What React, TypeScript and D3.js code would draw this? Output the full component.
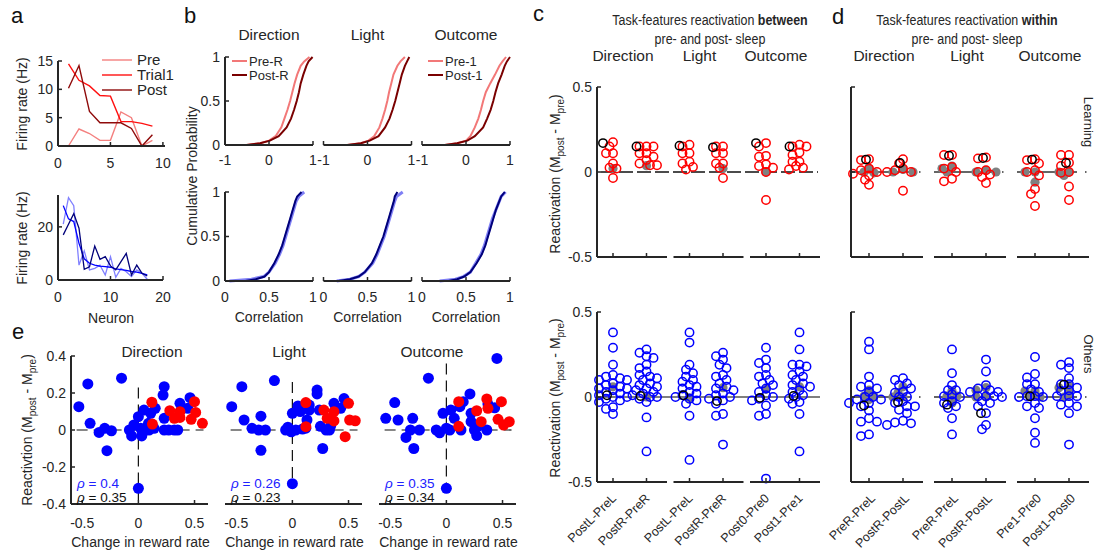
import React from "react"
import * as d3 from "d3"

const FONT = "'Liberation Sans', Arial, Helvetica, sans-serif"
const INK = "#262626"

// ---------- a : firing rates of example cells ----------
const aLegend = ["Pre", "Trial1", "Post"]
const aNeuronsTop = [1, 2, 3, 4, 5, 6, 7, 8, 9]
const aPreTop = [0, 3, 2.2, 1, 1, 6, 5, 0, 1]
const aTrialTop = [14.5, 11.6, 10.6, 8.9, 8.8, 4.3, 4.3, 4, 3.5]
const aPostTop = [10.2, 14.2, 6.1, 4.1, 4.1, 4.1, 3.1, 0, 2]
const aNeuronsBottom = [1, 2, 3, 4, 5, 6, 7, 8, 9, 10, 11, 12, 13, 14, 15, 16, 17]
const aPreBottom = [21, 31, 28, 5.6, 11, 3.8, 4.4, 5.6, 1.9, 8.8, 1, 4.4, 3.1, 1.3, 3.8, 2.5, 0.3]
const aTrialBottom = [28, 23, 22, 13.8, 8, 6.3, 5.6, 5.2, 5, 4.8, 4.2, 3.9, 3.6, 3.2, 3, 2.5, 1.9]
const aPostBottom = [17, 21, 25, 19.5, 4, 5, 12.8, 7.8, 8.8, 5.3, 3.8, 6.9, 10, 1.9, 5.6, 2.5, 1.5]

// ---------- b : cumulative distributions (quantiles at bProbs) ----------
const bFeatures = ["Direction", "Light", "Outcome"]
const bProbs = [0, 0.02, 0.05, 0.1, 0.2, 0.3, 0.4, 0.5, 0.6, 0.7, 0.8, 0.9, 0.95, 1]
const bTopPre = [
  [-0.51, -0.2, 0.0, 0.15, 0.28, 0.35, 0.42, 0.48, 0.53, 0.58, 0.64, 0.72, 0.8, 0.92],
  [-0.46, -0.15, 0.02, 0.15, 0.27, 0.34, 0.4, 0.45, 0.49, 0.54, 0.59, 0.68, 0.75, 0.85],
  [-0.48, -0.2, 0.0, 0.1, 0.2, 0.28, 0.34, 0.39, 0.45, 0.55, 0.66, 0.76, 0.83, 0.91],
]
const bTopPost = [
  [-0.51, -0.2, 0.02, 0.22, 0.4, 0.5, 0.57, 0.63, 0.68, 0.72, 0.78, 0.85, 0.9, 0.99],
  [-0.46, -0.15, 0.05, 0.25, 0.4, 0.5, 0.57, 0.63, 0.68, 0.73, 0.78, 0.85, 0.9, 0.95],
  [-0.48, -0.2, 0.03, 0.2, 0.39, 0.48, 0.56, 0.62, 0.67, 0.73, 0.81, 0.88, 0.93, 1.0],
]
const bBotPre = [
  [0.05, 0.3, 0.44, 0.5, 0.57, 0.62, 0.66, 0.69, 0.72, 0.75, 0.78, 0.81, 0.84, 0.9],
  [0.15, 0.3, 0.4, 0.47, 0.56, 0.61, 0.65, 0.69, 0.72, 0.75, 0.78, 0.81, 0.83, 0.9],
  [0.2, 0.38, 0.47, 0.55, 0.61, 0.67, 0.71, 0.74, 0.77, 0.8, 0.84, 0.88, 0.9, 0.95],
]
const bBotPost = [
  [0.23, 0.35, 0.45, 0.5, 0.56, 0.61, 0.65, 0.68, 0.71, 0.74, 0.77, 0.8, 0.82, 0.87],
  [0.17, 0.3, 0.4, 0.47, 0.55, 0.6, 0.64, 0.68, 0.71, 0.74, 0.77, 0.8, 0.81, 0.84],
  [0.3, 0.4, 0.48, 0.55, 0.62, 0.68, 0.72, 0.75, 0.78, 0.81, 0.84, 0.88, 0.9, 0.94],
]
const bTopLegends = [["Pre-R", "Post-R"], null, ["Pre-1", "Post-1"]]

// ---------- e : reactivation vs change in reward rate ----------
const eRho = [["0.4", "0.35"], ["0.26", "0.23"], ["0.35", "0.34"]]
const eBlue: [number, number][][] = [
  [[-0.53, 0.126], [-0.45, 0.249], [-0.43, 0.036], [-0.35, -0.013], [-0.3, 0.009], [-0.24, -0.004], [-0.28, -0.112],
   [-0.15, 0.28], [-0.08, 0], [-0.06, -0.032], [-0.04, 0.027], [0, 0.072], [0.03, -0.032], [0.05, 0.108], [0.02, 0.009],
   [0.09, 0.036], [0.11, 0.09], [0.15, 0.117], [0.14, 0.009], [0.23, 0.234], [0.22, 0.189], [0.23, 0.063], [0.23, 0],
   [0.27, 0], [0.32, 0], [0.35, 0], [0.37, 0.144], [0.44, 0.117], [0.46, 0.175], [0, -0.315], [0.065, 0], [0.095, 0], [0.12, 0.03]],
  [[-0.54, 0.126], [-0.45, 0.234], [-0.43, 0.054], [-0.36, 0.009], [-0.3, 0], [-0.28, 0.075], [-0.28, -0.11], [-0.24, 0],
   [-0.16, 0.267], [-0.06, 0], [-0.04, 0.015], [-0.01, -0.01], [0, 0.09], [0, -0.29], [0.03, 0], [0.05, 0.13], [0.07, 0.1],
   [0.12, 0.01], [0.13, 0.054], [0.15, 0.108], [0.15, 0.135], [0.22, 0.216], [0.22, 0.195], [0.24, 0.108], [0.25, 0.02],
   [0.27, -0.1], [0.3, 0], [0.33, 0], [0.34, 0.02], [0.37, 0.144], [0.43, 0.117], [0.46, 0.17], [0.09, 0.005]],
  [[-0.54, 0.063], [-0.46, 0.148], [-0.43, 0.054], [-0.36, -0.04], [-0.32, 0], [-0.3, 0.063], [-0.29, -0.1], [-0.24, 0],
   [-0.16, 0.28], [-0.09, 0], [-0.06, -0.015], [-0.03, 0.09], [0, -0.315], [0.03, 0], [0.04, 0.108], [0.07, 0.063],
   [0.12, 0.126], [0.13, 0], [0.15, 0.153], [0.21, 0.195], [0.22, 0.09], [0.22, 0.045], [0.25, 0], [0.27, -0.03],
   [0.28, 0.02], [0.36, 0], [0.37, 0.14], [0.43, 0.12], [0.45, 0.387], [0.0, 0.01]],
]
const eRed: [number, number][][] = [
  [[0.12, 0.15], [0.125, 0.032], [0.28, 0.104], [0.32, 0.063], [0.37, 0.099], [0.37, 0.068], [0.47, 0.058], [0.5, 0.153],
   [0.51, 0.095], [0.57, 0.036]],
  [[0.12, 0.148], [0.12, 0.018], [0.28, 0.108], [0.31, 0.063], [0.37, 0.099], [0.37, 0.049], [0.47, -0.036], [0.5, 0.144],
   [0.51, 0.054], [0.56, 0.05]],
  [[0.11, 0.153], [0.11, 0.02], [0.27, 0.104], [0.31, 0.045], [0.36, 0.168], [0.37, 0.117], [0.46, 0.058], [0.49, 0.153],
   [0.51, 0.027], [0.56, 0.045]],
]
const eVLine = [[0.23, -0.38], [0.26, -0.3], [0.36, -0.32]]

// ---------- c / d : reactivation strips ----------
const cLabels = ["PostL-PreL", "PostR-PreR", "PostL-PreL", "PostR-PreR", "Post0-Pre0", "Post1-Pre1"]
const dLabels = ["PreR-PreL", "PostR-PostL", "PreR-PreL", "PostR-PostL", "Pre1-Pre0", "Post1-Post0"]

const cTopRed = [
  [0.175, 0.15, 0.11, 0.11, 0.05, 0.02, 0.025, -0.035],
  [0.15, 0.15, 0.15, 0.11, 0.11, 0.09, 0.07, 0.04, 0.04, 0.05],
  [0.16, 0.15, 0.11, 0.11, 0.05, 0.06, 0.03, 0.015],
  [0.15, 0.15, 0.11, 0.11, 0.05, 0.05, 0.025, -0.035],
  [0.17, 0.15, 0.09, 0.095, 0.045, 0.035, 0.025, 0.0, -0.165],
  [0.16, 0.15, 0.15, 0.115, 0.1, 0.06, 0.06, 0.035, 0.025, 0.015],
]
const cTopGray = [[0.02], [0.037], [], [0.02], [0.0], []]
const cTopBlack = [0.17, 0.15, 0.155, 0.145, 0.17, 0.15]

const cBotBlue = [
  [0.38, 0.29, 0.19, 0.13, 0.12, 0.11, 0.1, 0.1, 0.08, 0.07, 0.06, 0.05, 0.05, 0.04, 0.03, 0.02, 0.01, 0.0, 0.0, -0.01, -0.02, -0.03, -0.06, -0.07, -0.1],
  [0.28, 0.26, 0.24, 0.23, 0.19, 0.17, 0.15, 0.13, 0.12, 0.11, 0.1, 0.08, 0.07, 0.06, 0.05, 0.04, 0.03, 0.02, 0.01, 0.0, 0.0, -0.01, -0.03, -0.12, -0.32],
  [0.38, 0.32, 0.19, 0.16, 0.14, 0.12, 0.1, 0.09, 0.07, 0.06, 0.05, 0.03, 0.02, 0.01, 0, -0.01, -0.02, -0.04, -0.11, -0.37],
  [0.26, 0.24, 0.22, 0.19, 0.17, 0.13, 0.12, 0.1, 0.08, 0.06, 0.05, 0.04, 0.02, 0.01, 0, -0.01, -0.02, -0.04, -0.1, -0.11, -0.28],
  [0.29, 0.22, 0.2, 0.17, 0.13, 0.12, 0.1, 0.08, 0.07, 0.05, 0.03, 0.01, 0, -0.01, -0.02, -0.05, -0.1, -0.11, -0.48],
  [0.38, 0.28, 0.19, 0.19, 0.18, 0.15, 0.13, 0.12, 0.1, 0.08, 0.07, 0.06, 0.04, 0.03, 0.01, 0, -0.01, -0.03, -0.04, -0.1, -0.32],
]
const cBotGray = [[0.06], [0.0], [-0.005], [0.055], [0.045], [0.06]]
const cBotBlack = [0.01, 0.006, 0.01, -0.024, -0.005, 0.006]

const dTopRed = [
  [0.075, 0.07, 0.02, 0.01, 0.0, -0.01, -0.02, -0.045, -0.075],
  [0.075, 0.05, 0.02, 0.01, 0.0, 0.0, -0.11],
  [0.1, 0.1, 0.03, 0.02, 0.0, -0.04, -0.055],
  [0.08, 0.085, 0.01, -0.015, -0.03, -0.065, 0.0],
  [0.075, 0.07, 0.05, 0.01, 0.0, -0.02, -0.1, -0.13, -0.2],
  [0.1, 0.1, 0.055, 0.035, 0.0, -0.005, -0.085, -0.165],
]
const dTopGray = [[0.0, -0.005, 0.02], [0.0, 0.015, 0.0], [0.02, 0.035, 0.0], [0.01, 0.0, 0.0], [0.0, 0.0, -0.06], [0.0, -0.02, 0.0]]
const dTopBlack = [0.073, 0.053, 0.096, 0.082, 0.073, 0.053]

const dBotBlue = [
  [0.325, 0.28, 0.12, 0.07, 0.06, 0.05, 0.03, 0.0, 0.0, -0.015, -0.015, -0.035, -0.035, -0.055, -0.08, -0.125, -0.145, -0.145, -0.22, -0.23],
  [0.11, 0.1, 0.08, 0.07, 0.05, 0.03, 0.025, 0.0, 0.0, -0.025, -0.035, -0.055, -0.055, -0.075, -0.095, -0.14, -0.15, -0.155, -0.165],
  [0.28, 0.14, 0.07, 0.04, 0.04, 0.015, 0.005, 0.0, -0.025, -0.035, -0.055, -0.065, -0.125, -0.22],
  [0.22, 0.15, 0.07, 0.05, 0.04, 0.03, 0.03, 0.005, 0.005, 0.0, 0.005, -0.025, -0.035, -0.055, -0.095, -0.165, -0.19],
  [0.235, 0.135, 0.115, 0.075, 0.075, 0.045, 0.03, 0.005, 0.0, 0.005, 0.0, -0.035, -0.065, -0.055, -0.125, -0.21, -0.27],
  [0.205, 0.19, 0.17, 0.11, 0.075, 0.075, 0.055, 0.04, 0.035, 0.005, 0.005, 0.005, -0.035, -0.045, -0.055, -0.095, -0.28],
]
const dBotGray = [[0.04, 0.005, 0.005, -0.015], [0.06, 0.025, 0.0, 0.0], [0.035, 0.005, 0.005, -0.035], [0.04, 0.055, 0.0, 0.0], [0.035, 0.035, 0.005, 0.0], [0.065, 0.055, 0.025, 0.0]]
const dBotBlack = [-0.05, -0.03, -0.045, -0.095, 0.004, 0.073]

type Lin = d3.ScaleLinear<number, number>

function YAxis({ x, y, ticks, labels = true, fs = 14 }: { x: number; y: Lin; ticks: number[]; labels?: boolean; fs?: number }) {
  const [y0, y1] = y.range()
  return (
    <g>
      <line x1={x} x2={x} y1={y0} y2={y1} stroke={INK} strokeWidth={2} />
      {ticks.map(t => (
        <g key={t}>
          <line x1={x} x2={x + 4} y1={y(t)} y2={y(t)} stroke={INK} strokeWidth={1.5} />
          {labels && (
            <text x={x - 5} y={y(t)} dy="0.35em" textAnchor="end" fontSize={fs} fill={INK}>{String(t)}</text>
          )}
        </g>
      ))}
    </g>
  )
}

function XAxis({ y, x, ticks, fs = 14, off = 17 }: { y: number; x: Lin; ticks: number[]; fs?: number; off?: number }) {
  const [x0, x1] = x.range()
  return (
    <g>
      <line x1={x0} x2={x1} y1={y} y2={y} stroke={INK} strokeWidth={2} />
      {ticks.map(t => (
        <g key={t}>
          <line x1={x(t)} x2={x(t)} y1={y} y2={y - 4} stroke={INK} strokeWidth={1.5} />
          <text x={x(t)} y={y + off} dy="0.35em" textAnchor="middle" fontSize={fs} fill={INK}>{String(t)}</text>
        </g>
      ))}
    </g>
  )
}

// simple beeswarm: each point takes the nearest free horizontal slot
function swarm(vals: number[], y: Lin, r: number, step: number) {
  const order = vals.map((_, i) => i).sort((a, b) => vals[b] - vals[a])
  const placed: [number, number][] = []
  const res: [number, number][] = vals.map(() => [0, 0])
  for (const i of order) {
    const py = y(vals[i])
    for (let k = 0; k < 80; k++) {
      const off = k === 0 ? 0 : (k % 2 ? -1 : 1) * Math.ceil(k / 2) * step
      if (placed.every(([px, qy]) => Math.hypot(px - off, qy - py) >= r * 1.3)) {
        placed.push([off, py])
        res[i] = [off, py]
        break
      }
    }
  }
  return res
}

function PanelA() {
  const x1 = d3.scaleLinear().domain([0, 10.2]).range([58, 165])
  const y1 = d3.scaleLinear().domain([0, 15]).range([146, 61])
  const x2 = d3.scaleLinear().domain([0, 20]).range([58, 163])
  const y2 = d3.scaleLinear().domain([0, 32]).range([280, 195])
  const lineTop = d3.line<number>().x((_, i) => x1(aNeuronsTop[i])).y(d => y1(d))
  const lineBot = d3.line<number>().x((_, i) => x2(aNeuronsBottom[i])).y(d => y2(d))
  const redCols = ["#f4807f", "#ff1010", "#8f0a0a"]
  const blueCols = ["#8080ff", "#0000ff", "#00007a"]
  const legY = d3.scalePoint().domain(aLegend).range([60, 90])
  return (
    <g>
      <text x={11} y={23} fontSize={22} fill="#111">a</text>
      {[aPreTop, aTrialTop, aPostTop].map((s, i) => (
        <path key={i} d={lineTop(s) ?? ""} fill="none" stroke={redCols[i]} strokeWidth={1.4} />
      ))}
      <YAxis x={58} y={y1} ticks={[0, 5, 10, 15]} />
      <XAxis y={146} x={x1} ticks={[0, 5, 10]} />
      {aLegend.map((l, i) => (
        <g key={l}>
          <line x1={102} x2={132} y1={legY(l)} y2={legY(l)} stroke={redCols[i]} strokeWidth={1.4} />
          <text x={137} y={legY(l)} dy="0.35em" fontSize={15} fill={INK}>{l}</text>
        </g>
      ))}
      {[aPreBottom, aTrialBottom, aPostBottom].map((s, i) => (
        <path key={i} d={lineBot(s) ?? ""} fill="none" stroke={blueCols[i]} strokeWidth={1.3} />
      ))}
      <YAxis x={58} y={y2} ticks={[0, 20]} />
      <XAxis y={280} x={x2} ticks={[0, 10, 20]} />
      <text transform="translate(22,104) rotate(-90)" dy="0.35em" textAnchor="middle" fontSize={14} fill={INK}>Firing rate (Hz)</text>
      <text transform="translate(22,238) rotate(-90)" dy="0.35em" textAnchor="middle" fontSize={14} fill={INK}>Firing rate (Hz)</text>
      <text x={111} y={318} dy="0.35em" textAnchor="middle" fontSize={14} fill={INK}>Neuron</text>
    </g>
  )
}

function PanelB() {
  const starts = d3.scaleLinear().domain([0, 2]).range([225, 422])
  const w = 88
  const yT = d3.scaleLinear().domain([0, 1]).range([145, 57])
  const yB = d3.scaleLinear().domain([0, 1]).range([281, 192])
  return (
    <g>
      <text x={184} y={23} fontSize={22} fill="#111">b</text>
      {bFeatures.map((f, k) => {
        const s = starts(k)
        const xT = d3.scaleLinear().domain([-1, 1]).range([s, s + w])
        const xB = d3.scaleLinear().domain([0, 1]).range([s, s + w])
        const lT = d3.line<number>().x(d => xT(d)).y((_, i) => yT(bProbs[i]))
        const lB = d3.line<number>().x(d => xB(d)).y((_, i) => yB(bProbs[i]))
        const leg = bTopLegends[k]
        const legY = d3.scalePoint().domain(["0", "1"]).range([61, 75])
        return (
          <g key={f}>
            <text x={s + w / 2} y={35} dy="0.35em" textAnchor="middle" fontSize={15.5} fill={INK}>{f}</text>
            <path d={lT(bTopPre[k]) ?? ""} fill="none" stroke="#f27878" strokeWidth={2} />
            <path d={lT(bTopPost[k]) ?? ""} fill="none" stroke="#7a0000" strokeWidth={2} />
            <path d={lB(bBotPre[k]) ?? ""} fill="none" stroke="#7f7ff5" strokeWidth={3} />
            <path d={lB(bBotPost[k]) ?? ""} fill="none" stroke="#00007a" strokeWidth={2} />
            {k === 0 && <YAxis x={s} y={yT} ticks={[0, 0.5, 1]} />}
            {k === 0 && <YAxis x={s} y={yB} ticks={[0, 0.5, 1]} />}
            <XAxis y={145} x={xT} ticks={[-1, 0, 1]} off={15} />
            <XAxis y={281} x={xB} ticks={[0, 0.5, 1]} off={16} />
            <text x={s + w / 2} y={317} dy="0.35em" textAnchor="middle" fontSize={14} fill={INK}>Correlation</text>
            {leg && leg.map((l, i) => (
              <g key={l}>
                <line x1={s + (k === 0 ? 7 : 6)} x2={s + (k === 0 ? 22 : 21)} y1={legY(String(i))} y2={legY(String(i))}
                  stroke={i === 0 ? "#f27878" : "#7a0000"} strokeWidth={2} />
                <text x={s + (k === 0 ? 24 : 23)} y={legY(String(i))} dy="0.35em" fontSize={13} fill={INK}>{l}</text>
              </g>
            ))}
          </g>
        )
      })}
      <text transform="translate(192,176) rotate(-90)" dy="0.35em" textAnchor="middle" fontSize={14} fill={INK}>Cumulative Probability</text>
    </g>
  )
}

function ReactLabel({ x, y, word }: { x: number; y: number; word: string }) {
  return (
    <text transform={`translate(${x},${y}) rotate(-90)`} dy="0.35em" textAnchor="middle" fontSize={14} fill={INK}>
      {word} (M<tspan fontSize={10} dy={4}>post</tspan><tspan dy={-4}> - M</tspan><tspan fontSize={10} dy={4}>pre</tspan><tspan dy={-4}>)</tspan>
    </text>
  )
}

function PanelE() {
  const starts = d3.scaleLinear().domain([0, 2]).range([71, 379])
  const w = 137
  const y = d3.scaleLinear().domain([-0.4, 0.4]).range([504, 356])
  const titleOff = [81, 64, 53]
  return (
    <g>
      <text x={12} y={339} fontSize={22} fill="#111">e</text>
      {bFeatures.map((f, k) => {
        const s = starts(k)
        const x = d3.scaleLinear().domain([-0.6, 0.62]).range([s, s + w])
        return (
          <g key={f}>
            <text x={s + titleOff[k]} y={352} dy="0.35em" textAnchor="middle" fontSize={15.5} fill={INK}>{f}</text>
            <line x1={x(-0.55)} x2={x(0.58)} y1={y(0)} y2={y(0)} stroke="#111" strokeWidth={1.2} strokeDasharray="11 6" />
            <line x1={x(0)} x2={x(0)} y1={y(eVLine[k][0])} y2={y(eVLine[k][1])} stroke="#111" strokeWidth={1.2} strokeDasharray="11 6" />
            {eBlue[k].map((p, i) => <circle key={"b" + i} cx={x(p[0])} cy={y(p[1])} r={5.5} fill="#0000ff" />)}
            {eRed[k].map((p, i) => <circle key={"r" + i} cx={x(p[0])} cy={y(p[1])} r={5.5} fill="#ff0000" />)}
            {k === 0 && <YAxis x={s} y={y} ticks={[-0.4, -0.2, 0, 0.2, 0.4]} />}
            <XAxis y={504} x={x} ticks={[-0.5, 0, 0.5]} off={19} />
            <text x={s + 6} y={483} dy="0.35em" fontSize={13.5} fill="#2020ff"><tspan fontStyle="italic">ρ</tspan> = {eRho[k][0]}</text>
            <text x={s + 6} y={497} dy="0.35em" fontSize={13.5} fill="#111"><tspan fontStyle="italic">ρ</tspan> = {eRho[k][1]}</text>
            <text x={s + w / 2 + 1} y={542} dy="0.35em" textAnchor="middle" fontSize={14} fill={INK}>Change in reward rate</text>
          </g>
        )
      })}
      <ReactLabel x={27} y={430} word="Reactivtion" />
    </g>
  )
}

type StripProps = {
  gx: Lin; cat: d3.ScalePoint<string>; gw: number; y: Lin; open: number[][]; gray: number[][]; black: number[];
  color: string; blackOff: number; spread: number; zero: "dash" | "solid" | "group"
}

function Strip({ gx, cat, gw, y, open, gray, black, color, blackOff, spread, zero }: StripProps) {
  const [yb] = y.range()
  const xs = open.map((_, i) => gx(Math.floor(i / 2)) + (cat(String(i % 2)) ?? 0))
  const left = gx(0)
  const right = gx(2) + gw
  return (
    <g>
      {zero === "dash" && <line x1={left + 4} x2={right - 2} y1={y(0)} y2={y(0)} stroke="#111" strokeWidth={1.3} strokeDasharray="14 4" />}
      {zero === "solid" && <line x1={left} x2={right} y1={y(0)} y2={y(0)} stroke="#555" strokeWidth={1.6} />}
      {zero === "group" && [0, 1, 2].map(g => (
        <g key={g}>
          <line x1={gx(g)} x2={gx(g) + gw - 12} y1={y(0)} y2={y(0)} stroke="#333" strokeWidth={1.5} />
          <line x1={gx(g) + gw - 4} x2={gx(g) + gw - 2.5} y1={y(0)} y2={y(0)} stroke="#333" strokeWidth={1.5} />
        </g>
      ))}
      {gray.map((vals, i) => swarm(vals, y, 4.6, 5).map(([o, py], j) => (
        <circle key={`g${i}-${j}`} cx={xs[i] + o} cy={py} r={4.6} fill="#808080" />
      )))}
      {open.map((vals, i) => swarm(vals, y, 4.2, spread).map(([o, py], j) => (
        <circle key={`o${i}-${j}`} cx={xs[i] + o} cy={py} r={4.2} fill="none" stroke={color} strokeWidth={1.5} />
      )))}
      {black.map((v, i) => (
        <circle key={`k${i}`} cx={xs[i] + blackOff} cy={y(v)} r={4.2} fill="none" stroke="#000" strokeWidth={1.5} />
      ))}
      {[0, 1, 2].map(g => (
        <line key={g} x1={gx(g)} x2={gx(g) + gw} y1={yb} y2={yb} stroke={INK} strokeWidth={2} />
      ))}
      {xs.map((x, i) => <line key={`t${i}`} x1={x} x2={x} y1={yb} y2={yb - 4} stroke={INK} strokeWidth={1.5} />)}
    </g>
  )
}

function CatLabels({ gx, cat, y, labels, dx }: { gx: Lin; cat: d3.ScalePoint<string>; y: number; labels: string[]; dx: number }) {
  return (
    <g>
      {labels.map((l, i) => {
        const x = gx(Math.floor(i / 2)) + (cat(String(i % 2)) ?? 0)
        return (
          <text key={i} transform={`translate(${x + dx},${y + 17}) rotate(-45)`} textAnchor="end" fontSize={12.5} fill={INK}>{l}</text>
        )
      })}
    </g>
  )
}

function Title({ x, word }: { x: number; word: string }) {
  return (
    <g>
      <text transform={`translate(${x},20) scale(0.86,1)`} dy="0.35em" textAnchor="middle" fontSize={14.5} fill={INK}>
        Task-features reactivation <tspan fontWeight="bold">{word}</tspan>
      </text>
      <text transform={`translate(${x},39) scale(0.86,1)`} dy="0.35em" textAnchor="middle" fontSize={14.5} fill={INK}>pre- and post- sleep</text>
    </g>
  )
}

function PanelCD() {
  const yT = d3.scaleLinear().domain([-0.5, 0.5]).range([257, 87])
  const yB = d3.scaleLinear().domain([-0.5, 0.5]).range([482, 312])
  const cgx = d3.scaleLinear().domain([0, 2]).range([597, 750])
  const ccat = d3.scalePoint().domain(["0", "1"]).range([16, 49.5])
  const dgx = d3.scaleLinear().domain([0, 2]).range([851, 1017])
  const dcat = d3.scalePoint().domain(["0", "1"]).range([18, 52])
  const ticks = [-0.5, 0, 0.5]
  return (
    <g>
      <text x={533} y={21} fontSize={22} fill="#111">c</text>
      <Title x={710} word="between" />
      {bFeatures.map((f, g) => (
        <text key={f} x={cgx(g) + 26} y={56} dy="0.35em" textAnchor="middle" fontSize={15.5} fill={INK}>{f}</text>
      ))}
      <Strip gx={cgx} cat={ccat} gw={70} y={yT} open={cTopRed} gray={cTopGray} black={cTopBlack} color="#ff0000" blackOff={-10} spread={3.5} zero="dash" />
      <Strip gx={cgx} cat={ccat} gw={70} y={yB} open={cBotBlue} gray={cBotGray} black={cBotBlack} color="#0000ff" blackOff={-6} spread={3.5} zero="solid" />
      <YAxis x={597} y={yT} ticks={ticks} />
      <YAxis x={597} y={yB} ticks={ticks} />
      <CatLabels gx={cgx} cat={ccat} y={482} labels={cLabels} dx={4} />
      <ReactLabel x={555} y={174} word="Reactivation" />
      <ReactLabel x={555} y={398} word="Reactivation" />

      <text x={832} y={24} fontSize={22} fill="#111">d</text>
      <Title x={967} word="within" />
      {bFeatures.map((f, g) => (
        <text key={f} x={dgx(g) + 33} y={56} dy="0.35em" textAnchor="middle" fontSize={15.5} fill={INK}>{f}</text>
      ))}
      <Strip gx={dgx} cat={dcat} gw={72} y={yT} open={dTopRed} gray={dTopGray} black={dTopBlack} color="#ff0000" blackOff={-3} spread={4} zero="group" />
      <Strip gx={dgx} cat={dcat} gw={72} y={yB} open={dBotBlue} gray={dBotGray} black={dBotBlack} color="#0000ff" blackOff={-5} spread={4} zero="group" />
      <YAxis x={851} y={yT} ticks={ticks} labels={false} />
      <YAxis x={851} y={yB} ticks={ticks} labels={false} />
      <CatLabels gx={dgx} cat={dcat} y={482} labels={dLabels} dx={7} />
      <text transform="translate(1089,122) rotate(90)" dy="0.35em" textAnchor="middle" fontSize={13} fill={INK}>Learning</text>
      <text transform="translate(1089,354) rotate(90)" dy="0.35em" textAnchor="middle" fontSize={13} fill={INK}>Others</text>
    </g>
  )
}

export default function App() {
  return (
    <svg width={1099} height={554} style={{ position: "absolute", left: 0, top: 0, background: "#fff" }} fontFamily={FONT}>
      <PanelA />
      <PanelB />
      <PanelE />
      <PanelCD />
    </svg>
  )
}
